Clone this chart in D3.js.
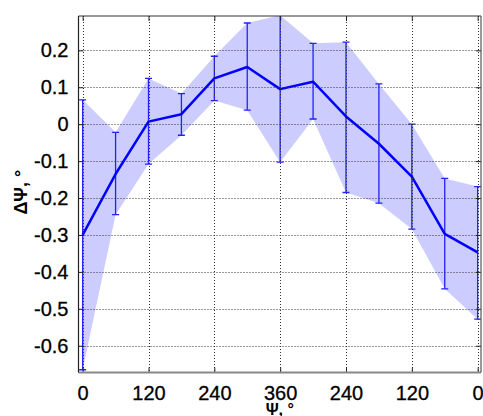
<!DOCTYPE html>
<html>
<head>
<meta charset="utf-8">
<script src="https://cdn.jsdelivr.net/npm/d3@7"></script>
<style>
  html, body { margin: 0; padding: 0; background: #fff; }
  svg { display: block; }
  text { font-family: "Liberation Sans", Arial, sans-serif; }
</style>
</head>
<body>
<svg id="chart" width="483" height="416"></svg>
<script>
// ---- data ----
const sweepPos = [0, 60, 120, 180, 240, 300, 360, 420, 480, 540, 600, 660, 720];
const meanVals = [-0.300, -0.135, 0.007, 0.027, 0.124, 0.155, 0.095, 0.115, 0.021, -0.053, -0.142, -0.297, -0.347];
const upperVals = [0.066, -0.022, 0.124, 0.083, 0.184, 0.274, 0.295, 0.219, 0.222, 0.109, 0.000, -0.147, -0.169];
const lowerVals = [-0.665, -0.245, -0.108, -0.030, 0.064, 0.038, -0.103, 0.014, -0.185, -0.214, -0.284, -0.446, -0.528];
const xTickPos = [0, 120, 240, 360, 480, 600, 720];
const xTickLabels = ["0", "120", "240", "360", "240", "120", "0"];
const yTickVals = [0.2, 0.1, 0, -0.1, -0.2, -0.3, -0.4, -0.5, -0.6];
const yTickLabels = ["0.2", "0.1", "0", "-0.1", "-0.2", "-0.3", "-0.4", "-0.5", "-0.6"];
const xLabel = "Ψ, °";
const yLabel = "ΔΨ, °";

// ---- layout ----
const L = 78.5, R = 481, T = 16, B = 372.5;
const svg = d3.select("#chart");

const x = d3.scaleLinear().domain([-7.6, 726.1]).range([L, R]);
const y = d3.scaleLinear().domain([-0.6725, 0.293]).range([B, T]);

const data = sweepPos.map((p, i) => ({ p, m: meanVals[i], hi: upperVals[i], lo: lowerVals[i] }));

svg.append("defs").append("clipPath").attr("id", "clip")
  .append("rect").attr("x", L).attr("y", T).attr("width", R - L).attr("height", B - T);

const plot = svg.append("g").attr("clip-path", "url(#clip)");

// band
plot.append("path")
  .datum(data)
  .attr("fill", "#ccccff")
  .attr("stroke", "none")
  .attr("d", d3.area().x(d => x(d.p)).y0(d => y(d.lo)).y1(d => y(d.hi)));

// grid
const grid = svg.append("g");
grid.selectAll("line.gx").data(xTickPos).enter().append("line")
  .attr("x1", d => Math.round(x(d)) + 0.5).attr("x2", d => Math.round(x(d)) + 0.5)
  .attr("y1", T).attr("y2", B)
  .attr("stroke", "#333").attr("stroke-width", 1).attr("stroke-dasharray", "1,2");
grid.selectAll("line.gy").data(yTickVals).enter().append("line")
  .attr("y1", d => Math.round(y(d)) + 0.5).attr("y2", d => Math.round(y(d)) + 0.5)
  .attr("x1", L).attr("x2", R)
  .attr("stroke", "#333").attr("stroke-width", 1).attr("stroke-dasharray", "1,2");

// error bars
const cap = 3.5;
const eb = plot.append("g").attr("stroke", "#2222ff").attr("stroke-width", 1.3).attr("fill", "none");
data.forEach(d => {
  const cx = x(d.p);
  eb.append("line").attr("x1", cx).attr("x2", cx).attr("y1", y(d.lo)).attr("y2", y(d.hi));
  eb.append("line").attr("x1", cx - cap).attr("x2", cx + cap).attr("y1", y(d.lo)).attr("y2", y(d.lo));
  eb.append("line").attr("x1", cx - cap).attr("x2", cx + cap).attr("y1", y(d.hi)).attr("y2", y(d.hi));
});

// mean line
plot.append("path")
  .datum(data)
  .attr("fill", "none")
  .attr("stroke", "#0000ff")
  .attr("stroke-width", 2.5)
  .attr("stroke-linejoin", "round")
  .attr("d", d3.line().x(d => x(d.p)).y(d => y(d.m)));

// axes (ticks inward + labels)
const fmtX = (d) => xTickLabels[xTickPos.indexOf(d)];
const fmtY = (d) => yTickLabels[yTickVals.indexOf(d)];

const axB = svg.append("g").attr("transform", `translate(0,${B})`)
  .call(d3.axisBottom(x).tickValues(xTickPos).tickFormat(fmtX).tickSizeInner(-5).tickSizeOuter(0).tickPadding(13));
const axT = svg.append("g").attr("transform", `translate(0,${T})`)
  .call(d3.axisTop(x).tickValues(xTickPos).tickFormat("").tickSizeInner(-5).tickSizeOuter(0));
const axL = svg.append("g").attr("transform", `translate(${L},0)`)
  .call(d3.axisLeft(y).tickValues(yTickVals).tickFormat(fmtY).tickSizeInner(-5).tickSizeOuter(0).tickPadding(10));
const axR = svg.append("g").attr("transform", `translate(${R},0)`)
  .call(d3.axisRight(y).tickValues(yTickVals).tickFormat("").tickSizeInner(-5).tickSizeOuter(0));

[axB, axT, axL, axR].forEach(a => {
  a.select(".domain").remove();
  a.selectAll(".tick line").attr("stroke", "#222");
  a.selectAll("text").attr("fill", "#000").style("font-size", "20px")
    .style("font-family", "'Liberation Sans', Arial, sans-serif")
    .attr("stroke", "#000").attr("stroke-width", 0.3);
});

// frame
svg.append("line").attr("x1", L).attr("x2", R).attr("y1", T).attr("y2", T).attr("stroke", "#333").attr("stroke-width", 1.2);
svg.append("line").attr("x1", L).attr("x2", R).attr("y1", B).attr("y2", B).attr("stroke", "#888").attr("stroke-width", 2);
svg.append("line").attr("x1", L).attr("x2", L).attr("y1", T).attr("y2", B).attr("stroke", "#222").attr("stroke-width", 1.2);
svg.append("line").attr("x1", R).attr("x2", R).attr("y1", T).attr("y2", B).attr("stroke", "#555").attr("stroke-width", 1.2);

// axis labels
svg.append("text")
  .attr("x", (L + R) / 2).attr("y", 415)
  .attr("text-anchor", "middle")
  .style("font-size", "16px").style("font-weight", "bold")
  .text(xLabel);
svg.append("text")
  .attr("transform", `translate(27,${(T + B) / 2 - 2}) rotate(-90)`)
  .attr("text-anchor", "middle")
  .style("font-size", "18px").style("font-weight", "bold")
  .text(yLabel);
</script>
</body>
</html>
